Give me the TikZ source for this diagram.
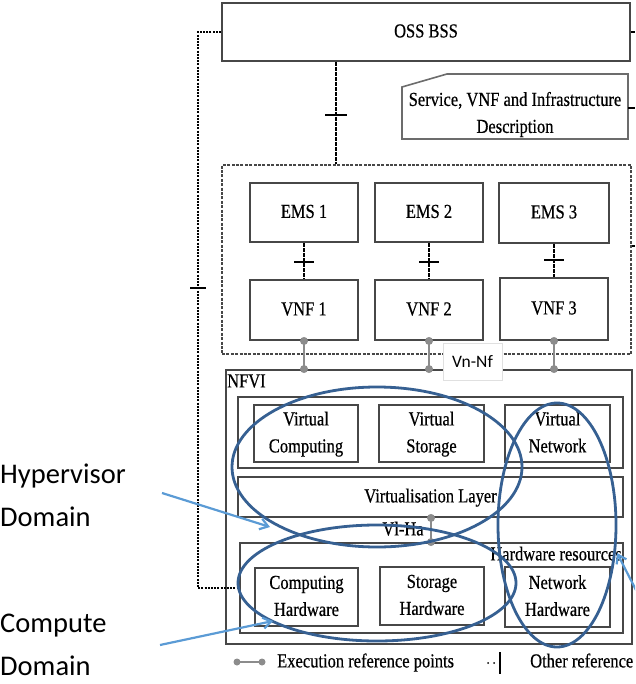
\documentclass[tikz,border=0pt]{standalone}
\usepackage{fontspec}
\setmainfont{Liberation Serif}[FakeBold=0.6]
\newfontfamily\calib{Carlito}
\usepackage{graphicx}
\usetikzlibrary{arrows.meta}
\definecolor{boxc}{gray}{0.28}
\definecolor{ellc}{RGB}{54,96,146}
\definecolor{arrc}{RGB}{91,155,213}
\definecolor{execc}{gray}{0.55}
\newcommand{\vst}[1]{\scalebox{1}[1.2]{\begin{tabular}{@{}c@{}}#1\end{tabular}}}
\begin{document}
\begin{tikzpicture}[x=1pt,y=-1pt,
 txt/.style={font=\fontsize{16.5}{22.5}\selectfont, inner sep=0pt},
 box/.style={draw=boxc, line width=1.9pt, inner sep=0pt, font=\fontsize{16.5}{22.5}\selectfont},
 bwh/.style 2 args={box, minimum width=#1pt, minimum height=#2pt},
 dbox/.style={draw=boxc, line width=1.4pt, dash pattern=on 3pt off 1.4pt, inner sep=0pt},
 refline/.style={draw=black, line width=1.6pt, dash pattern=on 1.6pt off 0.9pt},
 tickm/.style={draw=black, line width=2.6pt},
 dotline/.style={draw=black, line width=2.8pt, dash pattern=on 2pt off 1.2pt},
 exec/.style={draw=execc, line width=2.6pt},
 ell/.style={draw=ellc, line width=2.8pt},
 blarrow/.style={draw=arrc, line width=2.2pt, -{Straight Barb[length=8pt,width=11pt]}},
 big/.style={font=\calib\fontsize{28.5}{43}\selectfont, inner sep=0pt, anchor=base west},
 stub/.style={draw=black, line width=2.2pt}
]
\useasboundingbox (0,0) rectangle (635,684);
\begin{scope}
\clip (0,0) rectangle (635,684);
% top
\node[bwh={408}{58}] (oss) at (426,32) {\vst{OSS BSS}};
\node[minimum width=226pt, minimum height=65pt, inner sep=0pt] (svc) at (515,106.5) {};
\draw[draw=boxc!80, line width=1.6pt] (447,74) -- (628,74) -- (628,139) -- (402,139) -- (402,87) -- cycle;
\node[txt] (svct) at (515,114) {\vst{Service, VNF and Infrastructure\\Description}};
% VNF area
\node[dbox, minimum width=409pt, minimum height=189pt] (vnfbox) at (426.5,259.5) {};
\node[bwh={108}{59}] (ems1) at (304,212.5) {\vst{EMS 1}};
\node[bwh={108}{59}] (ems2) at (429,212.5) {\vst{EMS 2}};
\node[bwh={110}{60}] (ems3) at (554,213) {\vst{EMS 3}};
\node[bwh={108}{60}] (vnf1) at (304,310) {\vst{VNF 1}};
\node[bwh={108}{60}] (vnf2) at (429,310) {\vst{VNF 2}};
\node[bwh={108}{62}] (vnf3) at (554,309) {\vst{VNF 3}};
% NFVI
\node[bwh={406}{274}] (nfvi) at (429,507) {};
\node[txt, anchor=west] (nfvil) at (227,382) {\vst{NFVI}};
\node[bwh={385}{71}] (vrow) at (430.5,432.5) {};
\node[bwh={104}{57}] (vc) at (306,433.5) {\vst{Virtual\\Computing}};
\node[bwh={105}{57}] (vs) at (431.5,433.5) {\vst{Virtual\\Storage}};
\node[bwh={105}{57}] (vn) at (557.5,433.5) {\vst{Virtual\\Network}};
\node[bwh={385}{40}] (vl) at (430.5,497) {\vst{Virtualisation Layer}};
\node[bwh={383}{90}] (hw) at (431.5,588) {};
\node[txt, anchor=east] (hwl) at (622,555) {\vst{Hardware resources}};
\node[bwh={103}{58}] (ch) at (306.5,597) {\vst{Computing\\Hardware}};
\node[bwh={104}{58}] (sh) at (432,596) {\vst{Storage\\Hardware}};
\node[bwh={105}{60}] (nh) at (557.5,597) {\vst{Network\\Hardware}};
% other reference points
\coordinate (t0) at (336,115);
\draw[refline] (oss.south -| t0) -- (vnfbox.north -| t0);
\draw[tickm] ([xshift=-11pt]t0) -- ([xshift=11pt]t0);
\draw[refline] (ems1) -- (vnf1);
\draw[refline] (ems2) -- (vnf2);
\draw[refline] (ems3) -- (vnf3);
\coordinate (t1) at (304,262);
\coordinate (t2) at (429,262);
\coordinate (t3) at (554,260);
\foreach \t in {t1,t2,t3}{\draw[tickm] ([xshift=-10pt]\t) -- ([xshift=10pt]\t);}
\coordinate (lc) at (198,288);
\draw[dotline] (oss.west) -| (lc) |- (hw.west);
\draw[tickm, line width=2pt] ([xshift=-8pt]lc) -- ([xshift=8pt]lc);
% execution reference points
\foreach \n in {1,2,3}{
  \draw[exec] (vnf\n.south) -- (vnf\n.south |- nfvi.north);
  \fill[execc] (vnf\n.south) circle[radius=4pt];
  \fill[execc] (vnf\n.south |- nfvi.north) circle[radius=4pt];
}
\node[draw=black!12, fill=white, line width=0.8pt, minimum width=59pt, minimum height=37pt, inner sep=0pt, font=\calib\fontsize{17.5}{20}\selectfont] (vnnf) at (472.5,361.5) {Vn-Nf};
\coordinate (vlha) at (431,530);
\draw[exec] (vl.south -| vlha) -- (hw.north -| vlha);
\fill[execc] (vl.south -| vlha) circle[radius=4pt];
\fill[execc] (hw.north -| vlha) circle[radius=4pt];
\node[txt] (vlhal) at (403,530) {\vst{Vl-Ha}};
% stubs at right edge
\coordinate (s1) at (635,32);
\coordinate (s2) at (635,108);
\coordinate (s3) at (635,246);
\draw[stub] (oss.east) -- (s1);
\draw[stub] (svc.east |- s2) -- (s2);
\draw[stub] (vnfbox.east |- s3) -- (s3);
% legend
\coordinate (lg1) at (237,662);
\coordinate (lg2) at (262,662);
\draw[exec] (lg1) -- (lg2);
\fill[execc] (lg1) circle[radius=3.5pt];
\fill[execc] (lg2) circle[radius=3.5pt];
\node[txt, anchor=west] (lgt1) at (277,662) {\vst{Execution reference points}};
\fill (488,663) circle[radius=1pt];
\fill (494,663) circle[radius=1pt];
\draw[black, line width=1.2pt] (500,652) -- (500,674);
\node[txt, anchor=west] (lgt2) at (530,662) {\vst{Other reference}};
% domains
\draw[ell] (377,467) ellipse [x radius=145pt, y radius=80pt];
\draw[ell] (377,583) ellipse [x radius=139pt, y radius=58pt];
\draw[ell] (557,525) ellipse [x radius=59pt, y radius=122pt];
\node[big] (hyp) at (0,483) {\begin{tabular}[t]{@{}l@{}}Hypervisor\\Domain\end{tabular}};
\node[big] (cmp) at (0,632) {\begin{tabular}[t]{@{}l@{}}Compute\\Domain\end{tabular}};
\coordinate (hs) at (162,493);
\coordinate (ha) at (270,527);
\coordinate (cs) at (160,645);
\coordinate (ca) at (273,621);
\coordinate (rs) at (637,592);
\coordinate (ra) at (617,553);
\draw[blarrow] (hs) -- (ha);
\draw[blarrow] (cs) -- (ca);
\draw[blarrow] (rs) -- (ra);
\end{scope}
\end{tikzpicture}
\end{document}
